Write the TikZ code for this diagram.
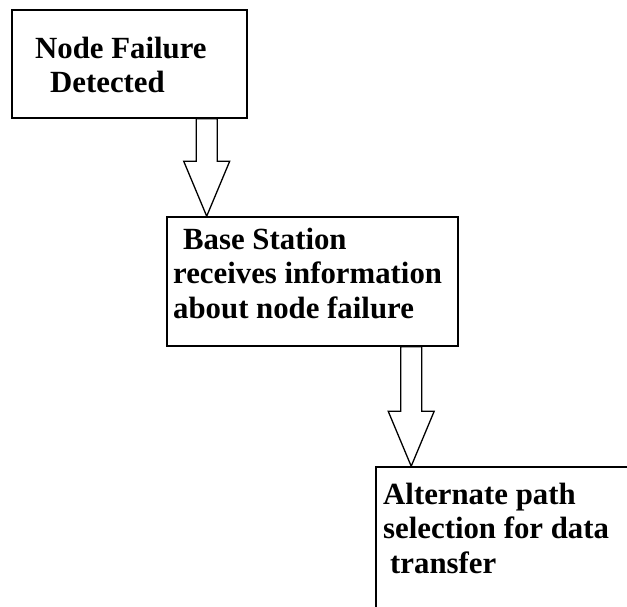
\documentclass[tikz,border=0pt]{standalone}
\usepackage{fontspec}
\setmainfont{Liberation Serif}
\usetikzlibrary{calc}

\tikzset{
  stagebox/.style={draw=black, line width=1.6pt, fill=white, inner sep=0pt},
  stagetext/.style={inner sep=0pt, anchor=base west, align=left,
    font=\fontsize{30.8pt}{34.5pt}\selectfont\bfseries},
  hollowarrow/.style={draw=black, line width=1.3pt, fill=white, line join=miter}
}

% hollow block arrow straight down from #1 to #2
\newcommand{\downblock}[2]{%
  \draw[hollowarrow] let \p1=(#1), \p2=(#2) in
    (\x1-10.5pt,\y1) -- (\x1-10.5pt,\y2+55pt) -- (\x1-23pt,\y2+55pt) --
    (\x1,\y2) -- (\x1+23pt,\y2+55pt) -- (\x1+10.5pt,\y2+55pt) --
    (\x1+10.5pt,\y1) -- cycle;}

\begin{document}
\begin{tikzpicture}[x=1pt, y=-1pt]
  \useasboundingbox (0,0) rectangle (627,606);
  \clip (0,0) rectangle (627,606);

  % stage boxes
  \node[stagebox, minimum width=235pt, minimum height=108pt] (b1) at (129.5,64) {};
  \node[stagebox, minimum width=291pt, minimum height=129pt] (b2) at (312.5,281.5) {};
  \node[stagebox, minimum width=264pt, minimum height=153pt] (b3) at (508,543.5) {};

  % box texts (anchored at the baseline of their last line)
  \node[stagetext] (t1) at (35,92.5) {Node Failure\\\hspace*{15pt}Detected};
  \node[stagetext] (t2) at (173,318) {\hspace*{10pt}Base Station\\receives information\\about node failure};
  \node[stagetext] (t3) at (383,573) {Alternate path\\selection for data\\\hspace*{7pt}transfer};

  % connectors
  \coordinate (a1s) at ($(b1.south west)+(195.5,0)$);
  \coordinate (a1e) at (a1s |- b2.north);
  \coordinate (a2s) at ($(b2.south west)+(245,0)$);
  \coordinate (a2e) at (a2s |- b3.north);
  \downblock{a1s}{a1e}
  \downblock{a2s}{a2e}
\end{tikzpicture}
\end{document}
